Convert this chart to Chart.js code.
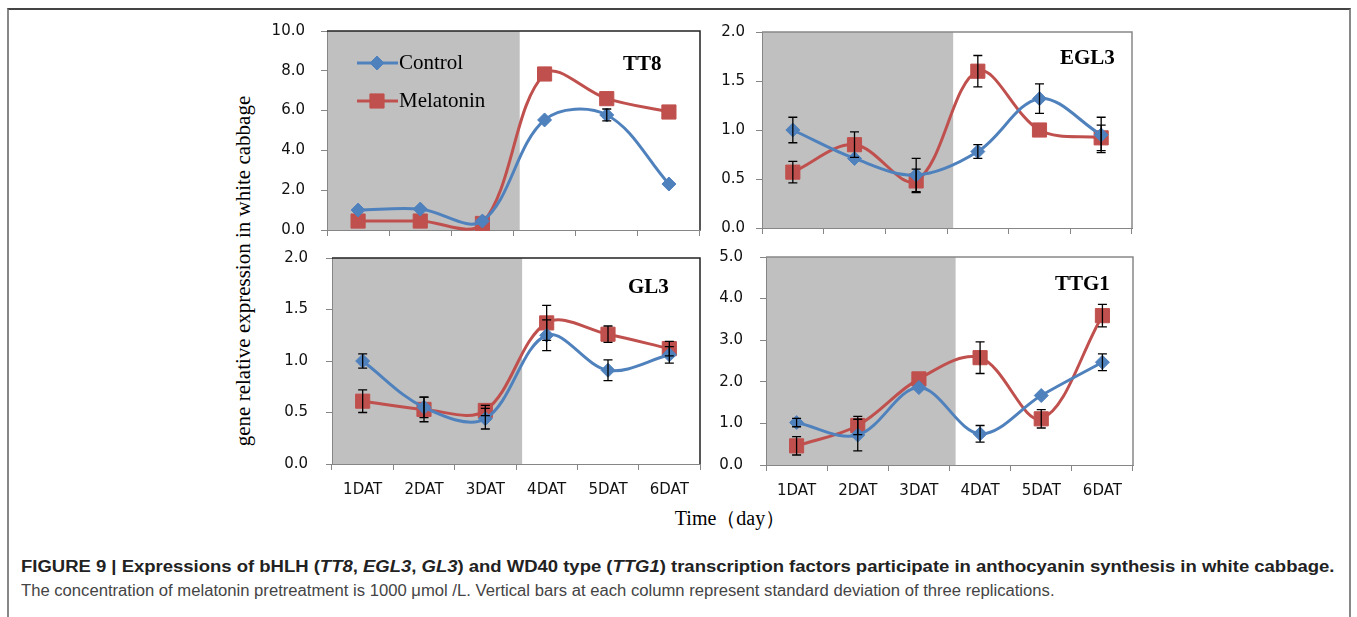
<!DOCTYPE html>
<html>
<head>
<meta charset="utf-8">
<script src="https://cdn.jsdelivr.net/npm/chart.js@4.4.1/dist/chart.umd.min.js"></script>
<style>
body { margin: 0; background: #fff; }
#fig { position: relative; width: 1357px; height: 617px; overflow: hidden; background: #fff; }
#frame { position: absolute; left: 7px; top: 8px; width: 1340px; height: 640px; border-top: 2px solid #444; border-left: 2px solid #888; border-right: 2px solid #888; }
canvas { position: absolute; }
.t { position: absolute; white-space: nowrap; line-height: 1; color: #000; }
.serif { font-family: "Liberation Serif", "Times New Roman", serif; }
.gene { font-weight: bold; font-size: 21px; }
.leg { font-size: 21px; }
#ylab { font-size: 21px; left: 243px; top: 271px; transform: translate(-50%, -50%) rotate(-90deg); }
#xlab { font-size: 20px; left: 730px; top: 518px; transform: translate(-50%, -50%); }
.cap { position: absolute; left: 21px; white-space: nowrap; font-family: "Liberation Sans", Arial, sans-serif; transform-origin: 0 0; }
#cap1 { top: 558px; font-size: 16px; font-weight: bold; color: #222; transform: scaleX(1.155); }
#cap2 { top: 582px; font-size: 16px; color: #444; transform: scaleX(1.04); }
</style>
</head>
<body>
<div id="fig">
  <div id="frame"></div>
  <canvas id="c1"></canvas>
  <canvas id="c2"></canvas>
  <canvas id="c3"></canvas>
  <canvas id="c4"></canvas>
  <div class="t serif leg" style="left:399px;top:52px;">Control</div>
  <div class="t serif leg" style="left:399px;top:90px;">Melatonin</div>
  <div class="t serif gene" style="left:623px;top:53px;">TT8</div>
  <div class="t serif gene" style="left:1060px;top:47px;">EGL3</div>
  <div class="t serif gene" style="left:628px;top:276px;">GL3</div>
  <div class="t serif gene" style="left:1055px;top:273px;">TTG1</div>
  <div id="ylab" class="t serif">gene relative expression in white cabbage</div>
  <div id="xlab" class="t serif">Time（day）</div>
  <div id="cap1" class="cap">FIGURE 9 | Expressions of bHLH (<i>TT8</i>, <i>EGL3</i>, <i>GL3</i>) and WD40 type (<i>TTG1</i>) transcription factors participate in anthocyanin synthesis in white cabbage.</div>
  <div id="cap2" class="cap">The concentration of melatonin pretreatment is 1000 μmol /L. Vertical bars at each column represent standard deviation of three replications.</div>
</div>
<script>
// categories
const days = ['1DAT', '2DAT', '3DAT', '4DAT', '5DAT', '6DAT'];
const seriesNames = ['Control', 'Melatonin'];

// TT8
const tt8Control = [1.0, 1.05, 0.45, 5.53, 5.78, 2.31];
const tt8ControlErr = [0, 0, 0, 0, 0.3, 0];
const tt8Melatonin = [0.45, 0.45, 0.33, 7.84, 6.6, 5.93];
const tt8MelatoninErr = [0, 0, 0, 0, 0, 0];

// EGL3
const egl3Control = [1.0, 0.71, 0.54, 0.78, 1.32, 0.95];
const egl3ControlErr = [0.13, 0, 0.17, 0.07, 0.15, 0.18];
const egl3Melatonin = [0.57, 0.85, 0.48, 1.6, 1.0, 0.92];
const egl3MelatoninErr = [0.11, 0.13, 0.12, 0.16, 0, 0.13];

// GL3
const gl3Control = [1.0, 0.55, 0.44, 1.25, 0.91, 1.06];
const gl3ControlErr = [0.07, 0.1, 0.1, 0.15, 0.1, 0.08];
const gl3Melatonin = [0.61, 0.53, 0.52, 1.37, 1.26, 1.12];
const gl3MelatoninErr = [0.11, 0.12, 0.05, 0.17, 0.08, 0.07];

// TTG1
const ttg1Control = [1.02, 0.72, 1.86, 0.75, 1.67, 2.47];
const ttg1ControlErr = [0.1, 0.38, 0, 0.2, 0, 0.2];
const ttg1Melatonin = [0.46, 0.95, 2.07, 2.58, 1.11, 3.59];
const ttg1MelatoninErr = [0.22, 0.22, 0, 0.38, 0.22, 0.27];

const blue = '#4F81BD';
const red = '#C0504D';
const axisGray = '#868686';

// gray band behind the first three days + top/right frame of the plot
const shadePlugin = {
    id: 'shade',
    beforeDraw(chart, args, opts) {
        const { ctx, chartArea } = chart;
        const xEnd = chart.scales.x.getPixelForValue(opts.until);
        ctx.save();
        ctx.fillStyle = '#C0C0C0';
        ctx.fillRect(chartArea.left, chartArea.top, xEnd - chartArea.left, chartArea.bottom - chartArea.top);
        ctx.restore();
    },
    afterDraw(chart, args, opts) {
        const { ctx, chartArea } = chart;
        ctx.save();
        ctx.strokeStyle = opts.frame;
        ctx.lineWidth = 1.5;
        ctx.beginPath();
        ctx.moveTo(chartArea.left, chartArea.top);
        ctx.lineTo(chartArea.right, chartArea.top);
        ctx.lineTo(chartArea.right, chartArea.bottom);
        ctx.stroke();
        ctx.restore();
    }
};

// standard deviation bars
const errorPlugin = {
    id: 'errbars',
    afterDatasetsDraw(chart) {
        const { ctx } = chart;
        const y = chart.scales.y;
        ctx.save();
        ctx.strokeStyle = '#000';
        ctx.lineWidth = 1.3;
        chart.data.datasets.forEach((ds, i) => {
            const meta = chart.getDatasetMeta(i);
            ds.data.forEach((v, j) => {
                const e = ds.errors[j];
                if (!e) return;
                const px = meta.data[j].x;
                const top = y.getPixelForValue(v + e);
                const bot = y.getPixelForValue(v - e);
                ctx.beginPath();
                ctx.moveTo(px, top); ctx.lineTo(px, bot);
                ctx.moveTo(px - 4.5, top); ctx.lineTo(px + 4.5, top);
                ctx.moveTo(px - 4.5, bot); ctx.lineTo(px + 4.5, bot);
                ctx.stroke();
            });
        });
        ctx.restore();
    }
};

// legend drawn inside the TT8 plot
const legendPlugin = {
    id: 'insideLegend',
    afterDraw(chart, args, opts) {
        if (!opts.show) return;
        const { ctx, chartArea } = chart;
        chart.data.datasets.forEach((ds, i) => {
            const yy = chartArea.top + 32 + i * 38;
            const x0 = chartArea.left + 30;
            ctx.save();
            ctx.strokeStyle = ds.borderColor;
            ctx.lineWidth = 3;
            ctx.beginPath();
            ctx.moveTo(x0, yy); ctx.lineTo(x0 + 41, yy);
            ctx.stroke();
            ctx.fillStyle = ds.backgroundColor;
            ctx.strokeStyle = ds.borderColor;
            ctx.lineWidth = 1;
            Chart.helpers.drawPoint(ctx, { pointStyle: ds.pointStyle, radius: ds.pointRadius, borderWidth: 1 }, x0 + 20, yy);
            ctx.restore();
        });
    }
};

function buildChart(cv, w, h, p) {
    cv.width = w; cv.height = h;
    cv.style.width = w + 'px'; cv.style.height = h + 'px';
    return new Chart(cv, {
        type: 'line',
        data: {
            labels: days,
            datasets: [
                { label: seriesNames[0], data: p.ctrl, errors: p.ctrlErr, borderColor: blue, backgroundColor: blue,
                  pointStyle: 'rectRot', pointRadius: 7, pointBorderWidth: 1 },
                { label: seriesNames[1], data: p.mel, errors: p.melErr, borderColor: red, backgroundColor: red,
                  pointStyle: 'rect', pointRadius: 10, pointBorderWidth: 1 }
            ]
        },
        options: {
            responsive: false,
            animation: false,
            devicePixelRatio: 1,
            layout: { padding: 0 },
            elements: {
                line: { borderWidth: 3, tension: 0.35, capBezierPoints: false },
                point: { hoverRadius: 7 }
            },
            datasets: { line: { clip: 12 } },
            scales: {
                x: {
                    offset: true,
                    grid: { offset: true, drawOnChartArea: false, drawTicks: true, tickLength: 6, color: axisGray },
                    border: { color: axisGray, width: 1 },
                    ticks: { display: p.showX, padding: 11, color: '#111', font: { family: 'DejaVu Sans', size: 15 }, maxRotation: 0 },
                    afterFit(s) { s.height = p.showX ? 40 : 10; }
                },
                y: {
                    min: 0, max: p.yMax,
                    grid: { drawOnChartArea: false, drawTicks: true, tickLength: 6, color: axisGray },
                    border: { color: axisGray, width: 1 },
                    ticks: { stepSize: p.yStep, padding: p.tickPad, color: '#111', font: { family: 'DejaVu Sans', size: 15 },
                             callback: v => v.toFixed(1) },
                    afterFit(s) { s.width = 70; }
                }
            },
            plugins: {
                legend: { display: false },
                tooltip: { enabled: false },
                shade: { until: 2.6, frame: p.frame },
                insideLegend: { show: p.legend }
            }
        },
        plugins: [shadePlugin, errorPlugin, legendPlugin]
    });
}

// build once to measure how much room the axes take, then rebuild so the plot area sits where wanted
function makePanel(id, area, cfg) {
    const cv = document.getElementById(id);
    const pw = area.r - area.l, ph = area.b - area.t;
    let chart = buildChart(cv, pw + 120, ph + 80, cfg);
    const ca = chart.chartArea;
    const offL = ca.left, offT = ca.top;
    const offR = chart.width - ca.right, offB = chart.height - ca.bottom;
    chart.destroy();
    cv.style.left = (area.l - offL) + 'px';
    cv.style.top = (area.t - offT) + 'px';
    return buildChart(cv, pw + offL + offR, ph + offT + offB, cfg);
}

makePanel('c1', { l: 327, r: 700, t: 31, b: 230 }, {
    ctrl: tt8Control, ctrlErr: tt8ControlErr, mel: tt8Melatonin, melErr: tt8MelatoninErr,
    yMax: 10, yStep: 2, tickPad: 16, showX: false, frame: '#222', legend: true });
makePanel('c2', { l: 762, r: 1132, t: 32, b: 228 }, {
    ctrl: egl3Control, ctrlErr: egl3ControlErr, mel: egl3Melatonin, melErr: egl3MelatoninErr,
    yMax: 2, yStep: 0.5, tickPad: 11, showX: false, frame: '#888', legend: false });
makePanel('c3', { l: 332, r: 700, t: 258, b: 464 }, {
    ctrl: gl3Control, ctrlErr: gl3ControlErr, mel: gl3Melatonin, melErr: gl3MelatoninErr,
    yMax: 2, yStep: 0.5, tickPad: 18, showX: true, frame: '#222', legend: false });
makePanel('c4', { l: 766, r: 1133, t: 257, b: 465 }, {
    ctrl: ttg1Control, ctrlErr: ttg1ControlErr, mel: ttg1Melatonin, melErr: ttg1MelatoninErr,
    yMax: 5, yStep: 1, tickPad: 17, showX: true, frame: '#888', legend: false });
</script>
</body>
</html>
